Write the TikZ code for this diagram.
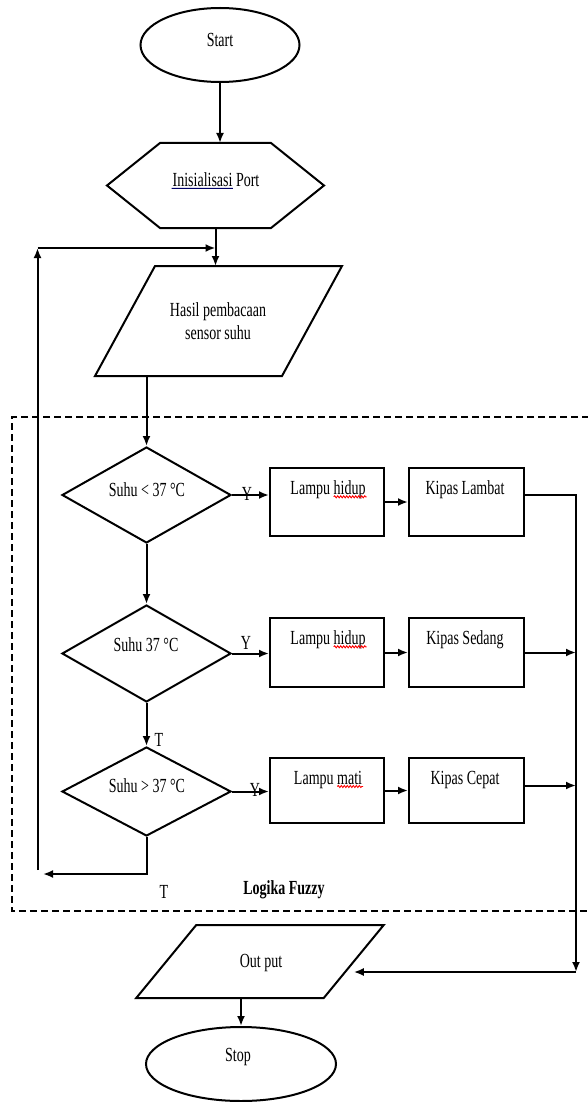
\documentclass[tikz,border=0pt]{standalone}
\usepackage{fontspec}
\setmainfont{Liberation Serif}[FakeStretch=0.7]
\usetikzlibrary{shapes.geometric,arrows.meta,calc,decorations.pathmorphing}
\begin{document}
\begin{tikzpicture}[x=1pt,y=-1pt, line width=2pt,
  conn/.style={-{Latex[length=10pt,width=8pt]}},
  box/.style={draw, rectangle, inner sep=0pt, minimum width=114pt},
  dia/.style={draw, diamond, inner sep=0pt, minimum width=169pt},
  term/.style={draw, ellipse, inner sep=0pt},
  core/.style={rectangle, inner sep=0pt},
  txt/.style={font=\fontsize{20}{23}\selectfont, inner sep=0pt, align=center},
  btxt/.style={txt, font=\fontsize{20}{23}\selectfont\bfseries},
  fuzzyline/.style={dashed, dash pattern=on 7pt off 4pt, line width=1.8pt},
  squig/.style={red, line width=0.9pt, decorate, decoration={snake, amplitude=1pt, segment length=3pt}}
  ]
\clip (0,0) rectangle (588,1102);
\fill[white] (0,0) rectangle (588,1102);

% fuzzy logic frame
\draw[fuzzyline] (600,417) -- (12,417) -- (12,911) -- (600,911);

% start
\node[term, minimum width=159pt, minimum height=74pt] (start) at (220,45) {};
\node[txt] (tstart) at (220,40) {Start};

% init hexagon
\node[core, minimum width=109pt, minimum height=83pt] (init) at (215.5,185.5) {};
\draw (init.north west) -- (init.north east) -- ($(init.east)+(53,0)$) -- (init.south east)
  -- (init.south west) -- ($(init.west)+(-53,0)$) -- cycle;
\node[txt] (tinit) at (216,180) {Inisialisasi Port};
\draw[blue!40!black, line width=0.9pt] ([yshift=-1.5pt]tinit.base west) -- ($([yshift=-1.5pt]tinit.base west)!0.69!([yshift=-1.5pt]tinit.base east)$);

% read sensor parallelogram
\node[core, minimum width=185pt, minimum height=108pt] (read) at (218.5,321) {};
\draw ($(read.north west)+(30,0)$) -- ($(read.north east)+(30,0)$) -- ($(read.south east)+(-30,0)$)
  -- ($(read.south west)+(-30,0)$) -- cycle;
\node[txt] (tread) at (218,321.5) {Hasil pembacaan\\sensor suhu};

% decisions
\node[dia, minimum height=96pt] (d1) at (146.5,495) {};
\node[txt] (td1) at (147,490) {Suhu < 37 °C};
\node[dia, minimum height=97pt] (d2) at (146.5,653.5) {};
\node[txt] (td2) at (146,645) {Suhu 37 °C};
\node[dia, minimum height=89pt] (d3) at (146.5,791.5) {};
\node[txt] (td3) at (147,786) {Suhu > 37 °C};

% process boxes
\node[box, minimum height=68pt] (l1) at (327,502) {};
\node[box, minimum height=68pt, minimum width=115pt] (k1) at (466.5,502) {};
\node[box, minimum height=69pt] (l2) at (327,652.5) {};
\node[box, minimum height=69pt, minimum width=115pt] (k2) at (466.5,652.5) {};
\node[box, minimum height=65pt] (l3) at (327,790.5) {};
\node[box, minimum height=65pt, minimum width=115pt] (k3) at (466.5,790.5) {};
\node[txt] (tl1) at (328,490) {Lampu hidup};
\node[txt] (tk1) at (465,490) {Kipas Lambat};
\node[txt] (tl2) at (328,640) {Lampu hidup};
\node[txt] (tk2) at (465,640) {Kipas Sedang};
\node[txt] (tl3) at (328,780) {Lampu mati};
\node[txt] (tk3) at (465,780) {Kipas Cepat};
\draw[squig] ($([yshift=-2pt]tl1.base east)!0.425!([yshift=-2pt]tl1.base west)$) -- ([yshift=-2pt]tl1.base east);
\draw[squig] ($([yshift=-2pt]tl2.base east)!0.425!([yshift=-2pt]tl2.base west)$) -- ([yshift=-2pt]tl2.base east);
\draw[squig] ($([yshift=-2pt]tl3.base east)!0.366!([yshift=-2pt]tl3.base west)$) -- ([yshift=-2pt]tl3.base east);

% output and stop
\node[core, minimum width=185.5pt, minimum height=71pt] (out) at (260,961.5) {};
\draw ($(out.north west)+(30,0)$) -- ($(out.north east)+(30,0)$) -- ($(out.south east)+(-30,0)$)
  -- ($(out.south west)+(-30,0)$) -- cycle;
\node[txt] (tout) at (261,963) {Out put};
\node[term, minimum width=190pt, minimum height=74pt] (stop) at (241,1064) {};
\node[txt] (tstop) at (238,1057) {Stop};

% labels
\node[txt] (y1) at (247,494) {Y};
\node[txt] (y2) at (246,643) {Y};
\node[txt] (y3) at (255,790) {Y};
\node[txt] (t1) at (159,740) {T};
\node[txt] (t2) at (164,892) {T};
\node[btxt] (lf) at (284,890) {Logika Fuzzy};

% coordinates
\coordinate (rb) at (576,972);
\coordinate (lbh) at (43,874);
\coordinate (lbv) at (37.5,870);
\coordinate (lt) at (37.5,248);

% connectors
\draw[conn] (start.south) -- (start.south |- init.north);
\draw[conn] (init.south) -- (init.south |- read.north);
\draw[conn] (d1.north |- read.south) -- (d1.north);
\draw[conn] (d1.south) -- (d2.north);
\draw[conn] (d2.south) -- (d3.north);
\draw[conn] (d1.east) -- (d1.east -| l1.west);
\draw[conn] (d2.east) -- (d2.east -| l2.west);
\draw[conn] (d3.east) -- (d3.east -| l3.west);
\draw[conn] (l1.east) -- (k1.west);
\draw[conn] (l2.east) -- (k2.west);
\draw[conn] (l3.east) -- (k3.west);
\draw[conn] ([yshift=7pt]k1.east) -| (rb);
\draw[conn] (k2.east) -- (k2.east -| rb);
\draw[conn] ([yshift=5pt]k3.east) -- ([yshift=5pt]k3.east -| rb);
\draw[conn] (rb) -- (rb -| out.east);
\draw[conn] (stop.north |- out.south) -- (stop.north);
\draw[conn] (d3.south) |- (lbh);
\draw[conn] (lbv) -- (lt);
\draw[conn] (lt) -- (lt -| init.south);
\end{tikzpicture}
\end{document}
